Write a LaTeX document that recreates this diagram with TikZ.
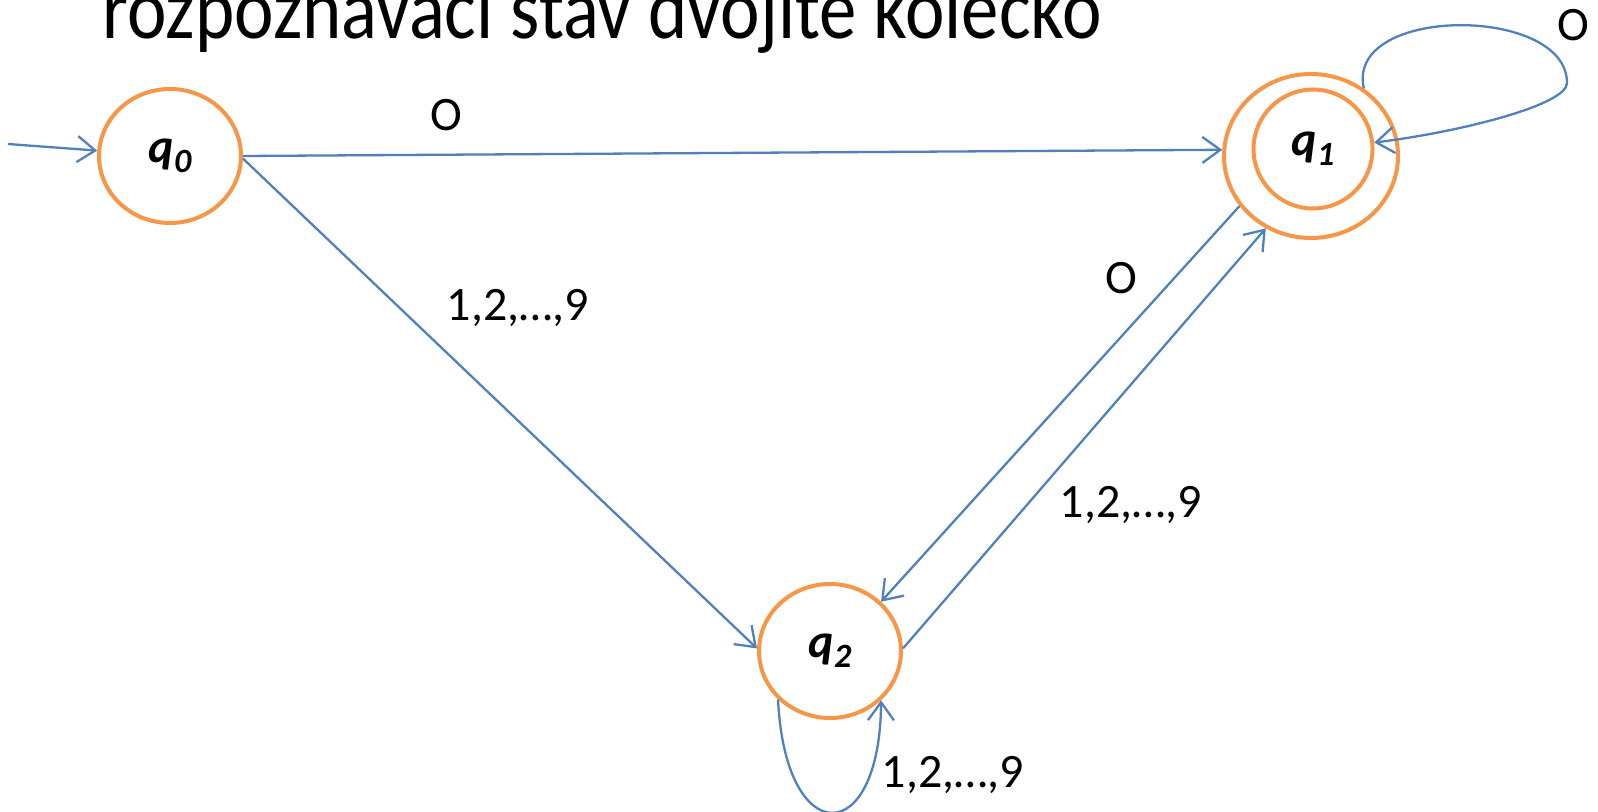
\documentclass[tikz,border=0pt]{standalone}
\usepackage{fontspec}
\setmainfont{Carlito}
\usetikzlibrary{arrows.meta,shapes.geometric}
\definecolor{stOrange}{HTML}{F79646}
\definecolor{edgeBlue}{HTML}{4F81BD}
\begin{document}
\begin{tikzpicture}[x=0.5pt,y=-0.5pt,
  state/.style={ellipse,draw=stOrange,line width=2pt,minimum width=71pt,minimum height=67pt,inner sep=0pt,font=\fontsize{24}{28}\selectfont\bfseries\itshape},
  ring/.style={ellipse,draw=stOrange,line width=2pt,inner sep=0pt},
  edge/.style={draw=edgeBlue,line width=1.15pt,-{Straight Barb[length=9pt,width=13pt]}},
  lbl/.style={font=\fontsize{24}{28}\selectfont,inner sep=0pt}]
\useasboundingbox (0,0) rectangle (1598,812);
\clip (0,0) rectangle (1598,812);
\node[anchor=base west,inner sep=0pt,font=\fontsize{34}{40}\selectfont] (title) at (102,39) {\scalebox{1.1}[1.28]{rozpoznávací stav dvojité kolečko}};
% states
\node[state] (q0) at (170,156) {q\raisebox{-5pt}{\fontsize{17}{19}\selectfont 0}};
\node[state] (q2) at (830,651) {q\raisebox{-5pt}{\fontsize{17}{19}\selectfont 2}};
\node[ring,minimum width=87pt,minimum height=82pt] (q1) at (1311,156) {};
\node[state,minimum width=59.5pt,minimum height=59.5pt] (q1in) at (1313,149) {q\raisebox{-5pt}{\fontsize{17}{19}\selectfont 1}};
\coordinate (start) at (8,144);
% edges
\draw[edge] (start) -- (q0);
\draw[edge] (q0.east) -- (q1.176);
\draw[edge] (q0.-2) -- (q2.178);
\draw[edge] (q1.215) -- (q2.44);
\draw[edge] (q2.2) -- (q1.238);
\draw[edge] (q1.52) .. controls (1345,5) and (1567,5) .. (1567,83) .. controls (1567,105) and (1460,132) .. (q1in.6);
\draw[edge] (q2.223) .. controls (785,850) and (880,850) .. (q2.316);
% labels
\node[lbl] (l01) at (446,115) {O};
\node[lbl] (l02) at (518,308) {1,2,…,9};
\node[lbl] (l12) at (1121,278) {O};
\node[lbl] (l21) at (1131,505) {1,2,…,9};
\node[lbl] (l11) at (1573,25) {O};
\node[lbl] (l22) at (953,775) {1,2,…,9};
\end{tikzpicture}
\end{document}
